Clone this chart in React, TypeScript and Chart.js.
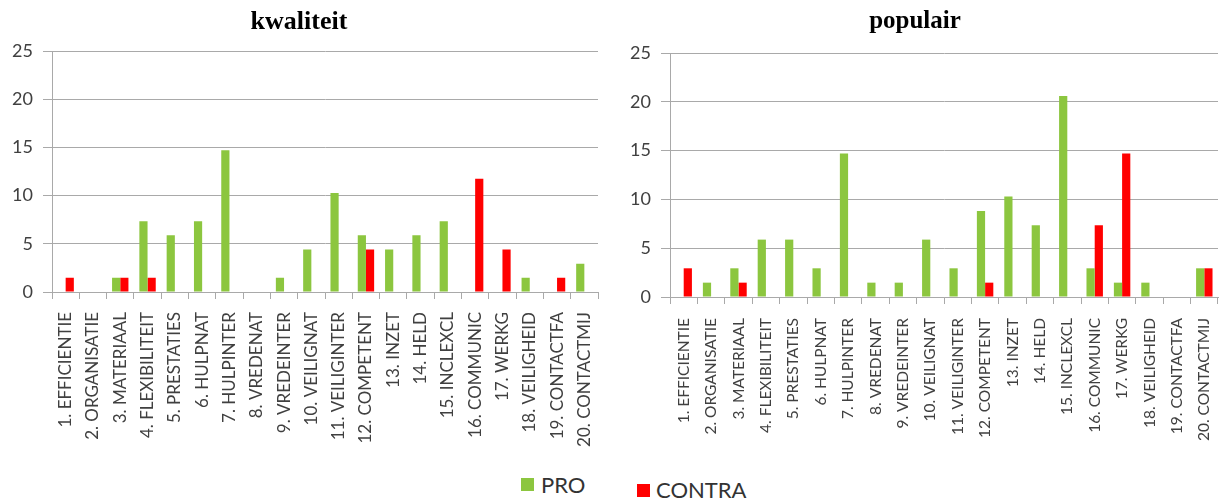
import React, { useEffect, useRef } from "react";
import { Chart, registerables } from "chart.js";

Chart.register(...registerables);

const categories = [
  "1. EFFICIENTIE",
  "2. ORGANISATIE",
  "3. MATERIAAL",
  "4. FLEXIBILITEIT",
  "5. PRESTATIES",
  "6. HULPNAT",
  "7. HULPINTER",
  "8. VREDENAT",
  "9. VREDEINTER",
  "10. VEILIGNAT",
  "11. VEILIGINTER",
  "12. COMPETENT",
  "13. INZET",
  "14. HELD",
  "15. INCLEXCL",
  "16. COMMUNIC",
  "17. WERKG",
  "18. VEILIGHEID",
  "19. CONTACTFA",
  "20. CONTACTMIJ",
];

const yTicks = [0, 5, 10, 15, 20, 25];

// kwaliteit (percentages)
const kwaliteitPro = [
  0, 0, 1.47, 7.35, 5.88, 7.35, 14.71, 0, 1.47, 4.41,
  10.29, 5.88, 4.41, 5.88, 7.35, 0, 0, 1.47, 0, 2.94,
];
const kwaliteitContra = [
  1.47, 0, 1.47, 1.47, 0, 0, 0, 0, 0, 0,
  0, 4.41, 0, 0, 0, 11.76, 4.41, 0, 1.47, 0,
];

// populair (percentages)
const populairPro = [
  0, 1.47, 2.94, 5.88, 5.88, 2.94, 14.71, 1.47, 1.47, 5.88,
  2.94, 8.82, 10.29, 7.35, 20.59, 2.94, 1.47, 1.47, 0, 2.94,
];
const populairContra = [
  2.94, 0, 1.47, 0, 0, 0, 0, 0, 0, 0,
  0, 1.47, 0, 0, 0, 7.35, 14.71, 0, 0, 2.94,
];

const seriesNames = ["PRO", "CONTRA"];
const GREEN = "#8cc63f";
const RED = "#ff0000";
const GRID = "#a9a9a9";
const LABEL = "#404040";

type PanelProps = {
  title: string;
  pro: number[];
  contra: number[];
  left: number;
  width: number;
  height: number;
  axisWidth: number;
  xAxisHeight: number;
  padRight: number;
  titleSize: number;
  titlePadTop: number;
  titlePadBottom: number;
  labelSize: number;
  labelPad: number;
};

function Panel(p: PanelProps) {
  const ref = useRef<HTMLCanvasElement | null>(null);

  useEffect(() => {
    if (!ref.current) return;
    const chart = new Chart(ref.current, {
      type: "bar",
      data: {
        labels: categories,
        datasets: [
          {
            label: seriesNames[0],
            data: p.pro,
            backgroundColor: GREEN,
            barPercentage: 1,
            categoryPercentage: 0.6,
          },
          {
            label: seriesNames[1],
            data: p.contra,
            backgroundColor: RED,
            barPercentage: 1,
            categoryPercentage: 0.6,
          },
        ],
      },
      options: {
        animation: false,
        responsive: false,
        layout: { padding: { left: 0, right: p.padRight, top: 0, bottom: 0 } },
        plugins: {
          legend: { display: false },
          tooltip: { enabled: false },
          title: {
            display: true,
            text: p.title,
            color: "#000",
            font: { family: "'Liberation Serif', serif", size: p.titleSize, weight: "bold", lineHeight: 1.2 },
            padding: { top: p.titlePadTop, bottom: p.titlePadBottom },
          },
        },
        scales: {
          x: {
            grid: {
              display: true,
              drawOnChartArea: false,
              drawTicks: true,
              tickLength: 7,
              color: GRID,
              offset: true,
            },
            border: { color: GRID },
            ticks: {
              autoSkip: false,
              minRotation: 90,
              maxRotation: 90,
              padding: p.labelPad,
              color: LABEL,
              font: { family: "Lato, 'Open Sans', sans-serif", size: p.labelSize },
            },
            afterFit: (scale: any) => {
              scale.height = p.xAxisHeight;
              scale.paddingLeft = 0;
              scale.paddingRight = 0;
            },
          },
          y: {
            min: 0,
            max: 25,
            afterBuildTicks: (scale: any) => {
              scale.ticks = yTicks.map((v) => ({ value: v }));
            },
            grid: {
              color: GRID,
              tickLength: 9,
              lineWidth: 1,
            },
            border: { color: GRID },
            ticks: {
              padding: 10,
              color: LABEL,
              font: { family: "Lato, 'Open Sans', sans-serif", size: 18 },
            },
            afterFit: (scale: any) => {
              scale.width = p.axisWidth;
              scale.paddingTop = 0;
              scale.paddingBottom = 0;
            },
          },
        },
      },
    });
    return () => chart.destroy();
  }, []);

  return (
    <canvas
      ref={ref}
      width={p.width}
      height={p.height}
      style={{ position: "absolute", left: p.left, top: 0, width: p.width, height: p.height }}
    />
  );
}

const legendText: React.CSSProperties = {
  position: "absolute",
  fontFamily: "Lato, 'Open Sans', sans-serif",
  fontSize: 22,
  color: "#333",
  lineHeight: "22px",
};

export default function App() {
  return (
    <div
      style={{
        position: "fixed",
        left: 0,
        top: 0,
        width: 1220,
        height: 500,
        background: "#fff",
        overflow: "hidden",
      }}
    >
      <Panel
        title="kwaliteit"
        pro={kwaliteitPro}
        contra={kwaliteitContra}
        left={0}
        width={610}
        height={460}
        axisWidth={52}
        xAxisHeight={168}
        padRight={12}
        titleSize={26}
        titlePadTop={7}
        titlePadBottom={13}
        labelSize={17}
        labelPad={13}
      />
      <Panel
        title="populair"
        pro={populairPro}
        contra={populairContra}
        left={612}
        width={608}
        height={464}
        axisWidth={58}
        xAxisHeight={167}
        padRight={2}
        titleSize={25}
        titlePadTop={7}
        titlePadBottom={16}
        labelSize={15.5}
        labelPad={14}
      />
      <div style={{ position: "absolute", left: 521, top: 478, width: 13, height: 13, background: GREEN }} />
      <div style={{ ...legendText, left: 541, top: 474 }}>{seriesNames[0]}</div>
      <div style={{ position: "absolute", left: 637, top: 484, width: 13, height: 13, background: RED }} />
      <div style={{ ...legendText, left: 656, top: 479 }}>{seriesNames[1]}</div>
    </div>
  );
}
